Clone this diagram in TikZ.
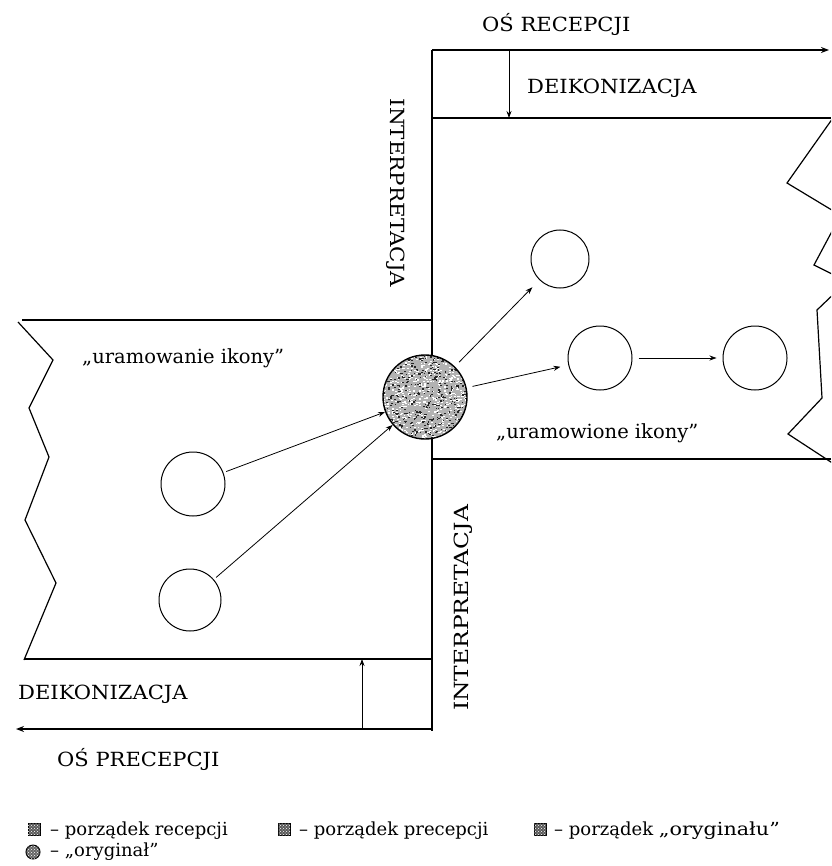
\documentclass[tikz,border=0pt]{standalone}
\usepackage{fontspec}
\setmainfont{DejaVu Serif}
\usetikzlibrary{arrows.meta,patterns}
% capitals are set a little wider than the font gives them
\newcommand{\widecaps}[1]{\scalebox{1.08}[1]{#1}}

\begin{document}
\begin{tikzpicture}[x=1pt,y=-1pt,
  frame/.style={line width=1.8pt},
  zig/.style={line width=1.2pt,line join=miter},
  axis/.style={line width=1.8pt,-{Stealth[length=8pt,width=6pt]}},
  thinarrow/.style={line width=0.8pt,-{Stealth[length=7pt,width=5pt]}},
  icon/.style={circle,draw,line width=1pt,inner sep=0pt},
  origrim/.style={circle,draw,line width=1.4pt,inner sep=0pt},
  lbl/.style={inner sep=0pt,font=\fontsize{19.5}{22}\selectfont},
  txt/.style={inner sep=0pt,font=\fontsize{19.5}{22}\selectfont},
  leg/.style={inner sep=0pt,anchor=west,font=\fontsize{18}{20}\selectfont},
  legsq/.style={draw,line width=1pt,minimum size=12pt,inner sep=0pt,
    fill=black!65,postaction={pattern=crosshatch dots,pattern color=white}},
  legcirc/.style={circle,draw,line width=1pt,minimum size=14pt,inner sep=0pt,
    fill=black!60,postaction={pattern=crosshatch dots,pattern color=white}}]
\useasboundingbox (0,0) rectangle (831,866);

% axes
\coordinate (recA) at (432,50);
\coordinate (recB) at (829,50);
\coordinate (preA) at (432,729);
\coordinate (preB) at (16,729);
\draw[axis] (recA) -- (recB);
\draw[axis] (preA) -- (preB);
\draw[line width=2.2pt] (432,50) -- (432,731);

% reception frame (right)
\draw[frame] (432,118) -- (831,118);
\draw[frame] (432,459) -- (831,459);
\begin{scope}
  \clip (0,0) rectangle (831,866);
  \draw[zig] (840,108) -- (787,183) -- (845,218);
  \draw[zig] (838,220) -- (814,265) -- (840,278);
  \draw[zig] (840,288) -- (817,310) -- (822,398) -- (788,434) -- (840,468);
\end{scope}

% precepction frame (left)
\draw[frame] (22,320) -- (432,320);
\draw[frame] (24,659) -- (432,659);
\draw[zig] (18,322) -- (53,360) -- (29,408) -- (49,457) -- (25,520) -- (56,583) -- (24,660);

% deiconisation arrows
\coordinate (dTop) at (509,50);
\coordinate (dTopEnd) at (509,118);
\draw[thinarrow] (dTop) -- (dTopEnd);
\coordinate (dBot) at (362,729);
\coordinate (dBotEnd) at (362,659);
\draw[thinarrow] (dBot) -- (dBotEnd);

% labels
\node[lbl,anchor=west] (osrec) at (482,24) {\widecaps{OŚ RECEPCJI}};
\node[lbl,anchor=west] (deik1) at (527,88) {\widecaps{DEIKONIZACJA}};
\node[lbl,rotate=-90] (int1) at (396,193) {\scalebox{1.1}[1]{INTERPRETACJA}};
\node[lbl,rotate=90] (int2) at (463,608) {\scalebox{1.2}[1]{INTERPRETACJA}};
\node[lbl,anchor=west] (deik2) at (18,694) {\widecaps{DEIKONIZACJA}};
\node[lbl,anchor=west] (ospre) at (57,759) {\widecaps{OŚ PRECEPCJI}};
\node[txt,anchor=west] (uram1) at (82,358) {„uramowanie ikony”};
\node[txt,anchor=west] (uram2) at (496,433) {„uramowione ikony”};

% the "original": a stippled disc
\coordinate (oc) at (425,397);
\begin{scope}
  \clip (oc) circle (42);
  \fill[gray!60] (oc) circle (42);
  \pgfmathsetseed{17}
  \foreach \i in {1,...,650}{
    \pgfmathsetmacro\px{rand*42}
    \pgfmathsetmacro\py{rand*42}
    \fill[white,shift={(oc)}] (\px,\py) rectangle ++(1.8,1.1);
  }
  \foreach \i in {1,...,450}{
    \pgfmathsetmacro\px{rand*42}
    \pgfmathsetmacro\py{rand*42}
    \fill[black!85,shift={(oc)}] (\px,\py) rectangle ++(1.6,1.2);
  }
\end{scope}
\node[origrim,minimum size=84pt] (o) at (oc) {};

% icons
\node[icon,minimum size=64pt] (l1) at (193,484) {};
\node[icon,minimum size=62pt] (l2) at (190,600) {};
\node[icon,minimum size=58pt] (r1) at (560,259) {};
\node[icon,minimum size=64pt] (r2) at (600,358) {};
\node[icon,minimum size=64pt] (r3) at (755,358) {};

\draw[thinarrow,shorten <=3pt] (l1) -- (o);
\draw[thinarrow,shorten <=3pt] (l2) -- (o);
\draw[thinarrow,shorten <=6pt,shorten >=10pt] (o) -- (r1);
\draw[thinarrow,shorten <=6pt,shorten >=8pt] (o) -- (r2);
\draw[thinarrow,shorten <=6pt,shorten >=6pt] (r2) -- (r3);

% legend
\node[legsq] (k1) at (34,829) {};
\node[leg] (t1) at (50,831) {– porządek recepcji};
\node[legsq] (k2) at (284,829) {};
\node[leg] (t2) at (299,831) {– porządek precepcji};
\node[legsq] (k3) at (540,829) {};
\node[leg] (t3) at (554,831) {– porządek \scalebox{1.15}[1]{„oryginału”}};
\node[legcirc] (k4) at (33,852) {};
\node[leg] (t4) at (50,852) {– „oryginał”};
\end{tikzpicture}
\end{document}
